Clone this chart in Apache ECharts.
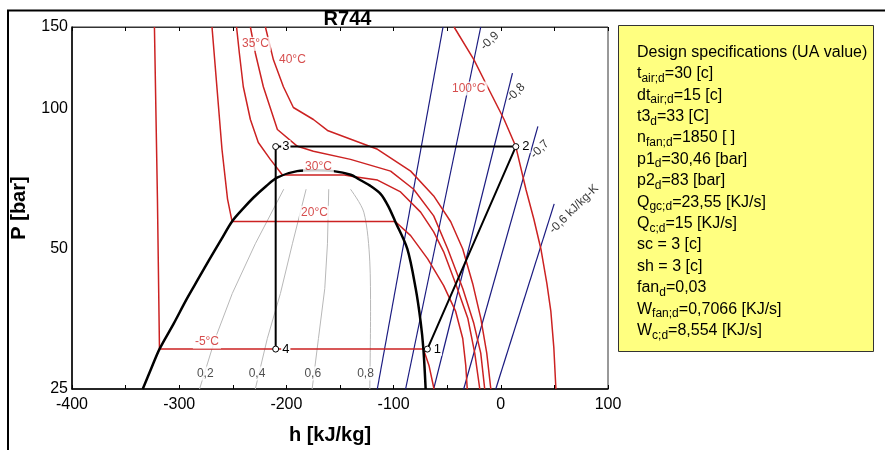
<!DOCTYPE html>
<html lang="en">
<head>
<meta charset="UTF-8">
<title>R744 p-h diagram</title>
<script src="https://cdn.jsdelivr.net/npm/echarts@6.0.0/dist/echarts.min.js"></script>
<style>
  html, body { margin: 0; padding: 0; background: #fff; }
  #main { width: 885px; height: 450px; }
</style>
</head>
<body>
<div id="main"></div>
<script>
// all curves are [h kJ/kg, P bar]
var dome = [[-334, 25], [-326, 27.7], [-318.4, 30.46], [-305, 34.6], [-292.8, 39.1], [-282, 43.2], [-271.5, 47.6],
  [-261, 52.3], [-250.7, 57.3], [-240, 61.2], [-230.6, 64.5], [-219, 68.2], [-208.7, 71.2], [-190, 73.5], [-173, 73.8],
  [-156, 73.5], [-140, 72.2], [-132.4, 70.6], [-122, 68.4], [-112, 65.6], [-105, 61.8], [-98.5, 57.3], [-87.2, 50],
  [-79.4, 41.1], [-74.8, 34.9], [-72.2, 30.46], [-70.1, 25]];

var isoM5 = [[-323.1, 150], [-320.3, 64], [-318.4, 30.46], [-72.2, 30.46], [-67, 28.1], [-62.3, 25]];
var iso20 = [[-269.4, 150], [-260.1, 81.9], [-254.9, 64], [-250.7, 57.3], [-98.5, 57.3], [-84.1, 53.4], [-68.2, 47.6],
  [-53.3, 41.7], [-42.1, 36.7], [-35.5, 32.1], [-32.7, 28.1], [-31.3, 25]];
var iso30 = [[-246.5, 150], [-243.9, 131.9], [-240.2, 111.6], [-233.6, 94.9], [-226.2, 84.7], [-215, 77.9], [-203.7, 72.1],
  [-146, 72.1], [-138, 71.6], [-115, 70.3], [-93.5, 66.3], [-74.8, 60], [-62.6, 54.4], [-53.3, 49.3], [-42.1, 42.1],
  [-30.8, 35.5], [-24.3, 29.85], [-19.6, 25]];
var iso35 = [[-233.6, 150], [-229, 131.9], [-221.5, 111.6], [-208.4, 90.3], [-189.7, 83.1], [-174.8, 81.1], [-140.2, 77.9],
  [-102.8, 73.5], [-81.3, 67.2], [-62.6, 58.9], [-49.5, 50], [-35.5, 41.1], [-25.2, 34.6], [-18.7, 29.85], [-15, 25]];
var iso40 = [[-219.6, 150], [-212.1, 127.5], [-202.8, 111.6], [-193.5, 100.7], [-174.8, 94.9], [-161.7, 89.9], [-115, 81.9],
  [-84.1, 73.5], [-62.6, 65], [-46.7, 57.2], [-35.5, 50], [-26.2, 42.1], [-18.7, 35.5], [-13.1, 29.85], [-9.3, 25]];
var iso100 = [[-43.6, 150], [-25, 127.5], [-12.4, 111.6], [3.1, 94.9], [14, 83], [23.4, 67.2], [30.8, 58], [37.4, 50],
  [43, 42.1], [46.7, 36.7], [49.5, 30.6], [51.4, 25]];

var s10 = [[-115.2, 25], [-53.9, 150]];
var s09 = [[-88.8, 25], [-18.7, 150]];
var s08 = [[-62.6, 25], [10.9, 119.4]];
var s07 = [[-34.6, 25], [34.6, 91.7]];
var s06 = [[-4.7, 25], [49.8, 62.5]];

var q02 = [[-281, 25], [-266.4, 32.1], [-250.5, 40.1], [-229, 51.3], [-202.5, 67.2]];
var q04 = [[-229, 25], [-217.8, 32.1], [-205.6, 40.1], [-194.4, 51.3], [-181.6, 67.2]];
var q06 = [[-176, 25], [-170.1, 32.1], [-164.2, 41.1], [-161.7, 51.3], [-160.5, 67.2]];
var q08 = [[-122.2, 25], [-121.5, 36.7], [-122.2, 46.9], [-127.8, 60], [-140.2, 67.2]];

// cycle state points 1..4
var cycleNames = ['1', '2', '3', '4'];
var cycleH = [-68.5, 14, -210, -210];
var cycleP = [30.46, 83, 83, 30.46];

// [text, h, P]
var tempLabels = [['35°C', -228.9, 138], ['40°C', -194.4, 127.5], ['30°C', -170.1, 75.1], ['20°C', -173.8, 59.8],
  ['-5°C', -274.1, 31.6], ['100°C', -29.9, 110.6]];
var qualityLabels = [['0,2', -275.7, 27], ['0,4', -227.4, 27], ['0,6', -175.4, 27], ['0,8', -126.2, 27]];
var entropyLabels = [['-0,9', -10.3, 140], ['-0,8', 14, 108.4], ['-0,7', 36.4, 81.9], ['-0,6 kJ/kg-K', 68.2, 60.9]];

var yTicks = [25, 50, 100, 150];

var specRows = [
  ['Design specifications (UA value)', '', ''],
  ['t', 'air;d', '=30 [c]'],
  ['dt', 'air;d', '=15 [c]'],
  ['t3', 'd', '=33 [C]'],
  ['n', 'fan;d', '=1850 [ ]'],
  ['p1', 'd', '=30,46 [bar]'],
  ['p2', 'd', '=83 [bar]'],
  ['Q', 'gc;d', '=23,55 [KJ/s]'],
  ['Q', 'c;d', '=15 [KJ/s]'],
  ['sc = 3 [c]', '', ''],
  ['sh = 3 [c]', '', ''],
  ['fan', 'd', '=0,03'],
  ['W', 'fan;d', '=0,7066 [KJ/s]'],
  ['W', 'c;d', '=8,554 [KJ/s]']
];

var FONT = 'Arial, "Liberation Sans", sans-serif';
var RED = '#cc2222', BLUE = '#1a1a80', GRAY = '#b8b8b8';

// pressure axis is logarithmic: plot log2(P/25)
function ly(p) { return Math.log(p / 25) / Math.LN2; }
function pts(arr) { return arr.map(function (d) { return [d[0], ly(d[1])]; }); }

function curve(data, color, width, smooth) {
  return {
    type: 'line', data: pts(data), symbol: 'none', smooth: smooth || false,
    lineStyle: { color: color, width: width }, silent: true, z: 2
  };
}

function labels(arr, style, rotate) {
  return {
    type: 'scatter', symbolSize: 0, silent: true, z: 10,
    data: arr.map(function (d) { return { name: d[0], value: [d[1], ly(d[2])] }; }),
    label: Object.assign({ show: true, position: 'inside', formatter: '{b}', fontFamily: FONT, rotate: rotate || 0 }, style)
  };
}

var specText = specRows.map(function (r) {
  return '{n|' + r[0] + '}' + (r[1] ? '{s|' + r[1] + '}' : '') + (r[2] ? '{n|' + r[2] + '}' : '');
}).join('\n');

var myChart = echarts.init(document.getElementById('main'));

var tickAxis = {
  type: 'value', min: -400, max: 100, interval: 100,
  axisTick: { inside: true, length: 4, lineStyle: { color: '#000' } },
  minorTick: { show: true, splitNumber: 2, length: 4, lineStyle: { color: '#000' } },
  splitLine: { show: false }
};

var domeSeries = curve(dome, '#000', 2.5, 0.3);
domeSeries.z = 3;

var option = {
  animation: false,
  grid: { left: 72, right: 277, top: 27, bottom: 59.5, show: true, borderColor: '#333', borderWidth: 1 },
  xAxis: [
    Object.assign({}, tickAxis, {
      position: 'bottom',
      axisLine: { onZero: false, lineStyle: { color: '#000', width: 1.5 } },
      axisLabel: { color: '#000', fontSize: 16, fontFamily: FONT, margin: 8 },
      name: 'h [kJ/kg]', nameLocation: 'middle', nameGap: 36,
      nameTextStyle: { fontSize: 20, fontWeight: 'bold', color: '#000', fontFamily: FONT, padding: [0, 20, 0, 0] }
    }),
    Object.assign({}, tickAxis, {
      position: 'top',
      axisLine: { onZero: false, lineStyle: { color: '#333', width: 1 } },
      axisLabel: { show: false }
    })
  ],
  yAxis: {
    type: 'value', min: 0, max: ly(yTicks[yTicks.length - 1]), interval: 1,
    axisLine: { onZero: false, lineStyle: { color: '#000', width: 1.5 } },
    axisTick: { show: false },
    splitLine: { show: false },
    axisLabel: {
      color: '#000', fontSize: 16, fontFamily: FONT, margin: 4,
      formatter: function (v) { return Math.round(25 * Math.pow(2, v)); }
    },
    name: 'P [bar]', nameLocation: 'middle', nameGap: 43,
    nameTextStyle: { fontSize: 20, fontWeight: 'bold', color: '#000', fontFamily: FONT }
  },
  series: [
    curve(q02, GRAY, 1), curve(q04, GRAY, 1), curve(q06, GRAY, 1), curve(q08, GRAY, 1, 0.3),
    curve(s10, BLUE, 1.2), curve(s09, BLUE, 1.2), curve(s08, BLUE, 1.2), curve(s07, BLUE, 1.2), curve(s06, BLUE, 1.2),
    curve(isoM5, RED, 1.5), curve(iso20, RED, 1.5), curve(iso30, RED, 1.5), curve(iso35, RED, 1.5),
    curve(iso40, RED, 1.5), curve(iso100, RED, 1.5),
    domeSeries,
    {
      type: 'line', z: 6, silent: true,
      data: cycleH.map(function (h, i) { return { name: cycleNames[i], value: [h, ly(cycleP[i])] }; }),
      symbol: 'circle', symbolSize: 6, showAllSymbol: true,
      itemStyle: { color: '#fff', borderColor: '#000', borderWidth: 1 },
      lineStyle: { color: '#000', width: 2 },
      label: {
        show: true, position: 'right', distance: 2, formatter: '{b}', fontSize: 13, fontFamily: FONT,
        color: '#000', backgroundColor: '#fff', padding: [0, 1]
      }
    },
    labels(tempLabels, { color: RED, fontSize: 12, lineHeight: 12, backgroundColor: '#fff', padding: [1, 2] }),
    labels(qualityLabels, { color: '#222', fontSize: 12, lineHeight: 12, backgroundColor: '#fff', padding: [1, 1] }),
    labels(entropyLabels, { color: '#000', fontSize: 12 }, 45)
  ],
  graphic: [
    { type: 'line', shape: { x1: 7, y1: 10.5, x2: 885, y2: 10.5 }, style: { stroke: '#000', lineWidth: 2 } },
    { type: 'line', shape: { x1: 8, y1: 10, x2: 8, y2: 450 }, style: { stroke: '#000', lineWidth: 2 } },
    {
      type: 'text', x: 347.5, y: 19,
      style: { text: 'R744', fontSize: 20, fontWeight: 'bold', fontFamily: FONT, fill: '#000', align: 'center', verticalAlign: 'middle' }
    },
    {
      type: 'rect', shape: { x: 618.5, y: 25.5, width: 255, height: 326 },
      style: { fill: '#ffff80', stroke: '#333', lineWidth: 1 }
    },
    {
      type: 'text', x: 637, y: 41.6, z: 10,
      style: {
        text: specText, align: 'left', verticalAlign: 'top',
        rich: {
          n: { fontSize: 16, fontFamily: FONT, lineHeight: 21.4, fill: '#000' },
          s: { fontSize: 12, fontFamily: FONT, lineHeight: 14, verticalAlign: 'bottom', fill: '#000' }
        }
      }
    }
  ]
};

myChart.setOption(option);
</script>
</body>
</html>
